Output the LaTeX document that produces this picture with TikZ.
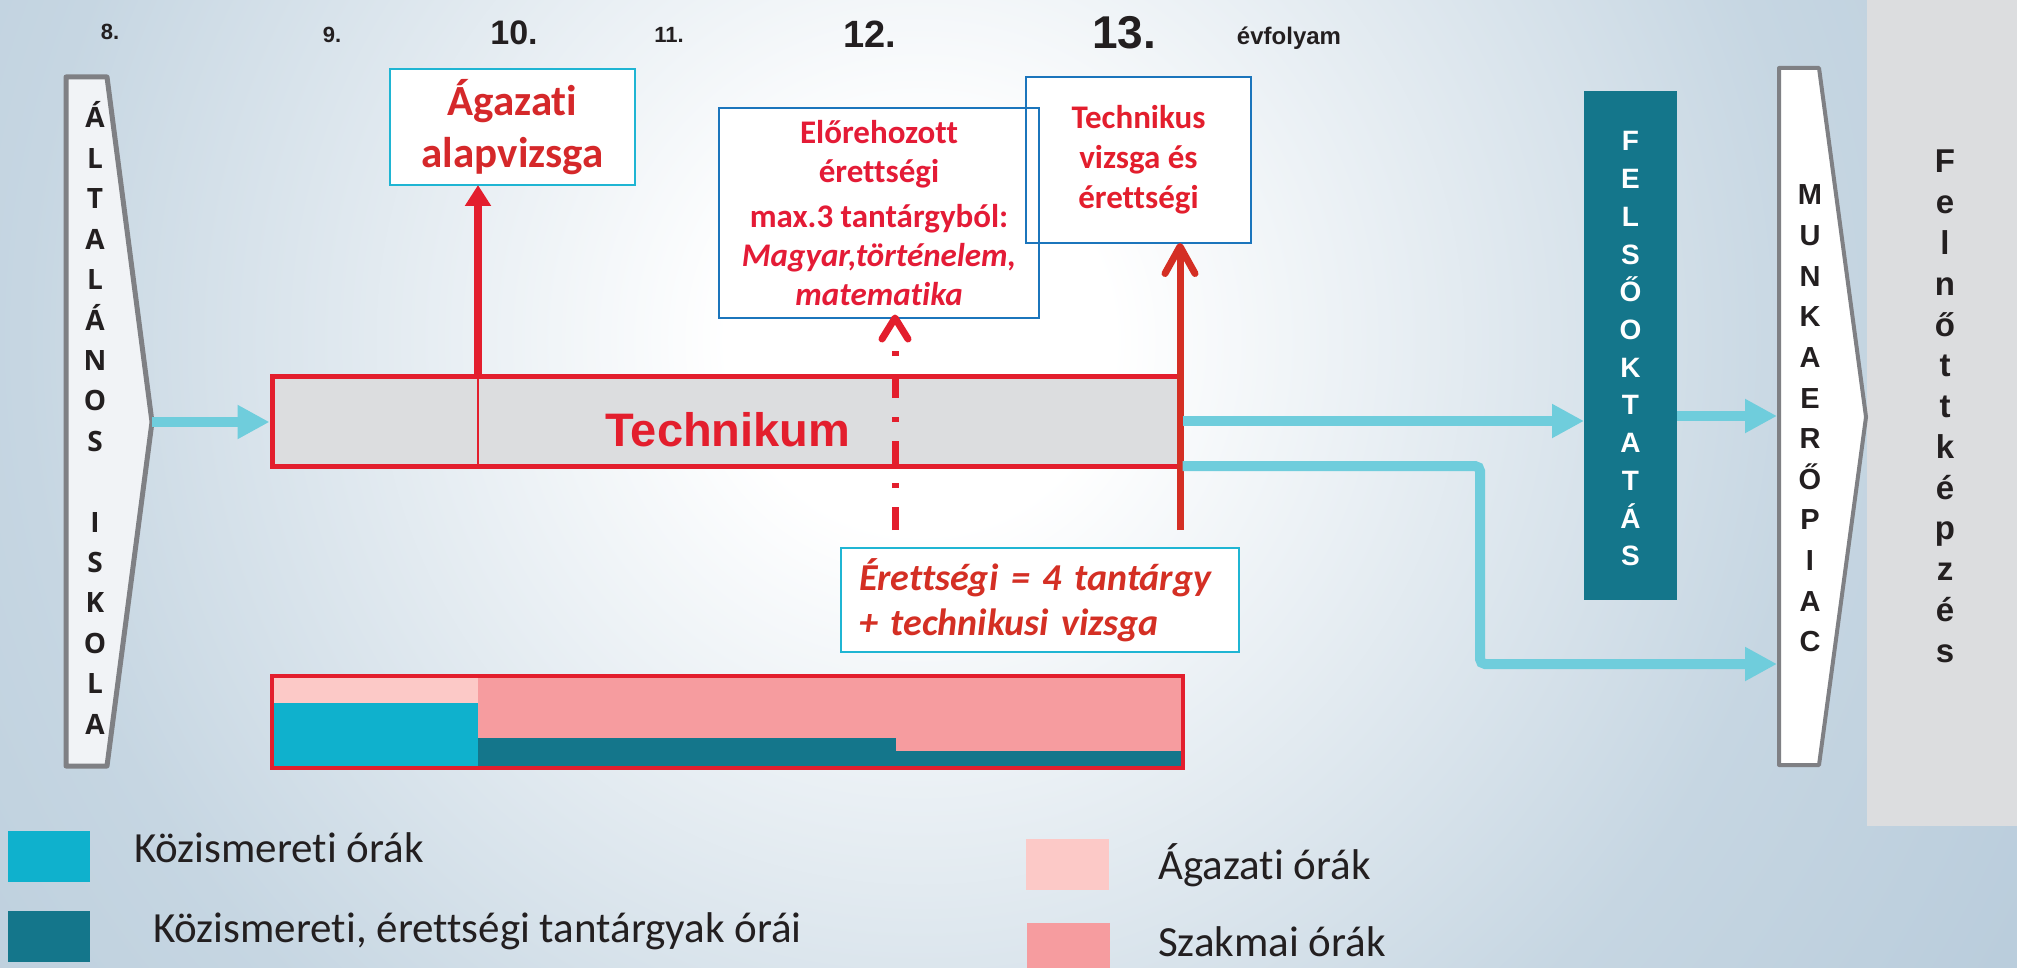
\documentclass[tikz,border=0pt]{standalone}
\usepackage{fontspec}
\setmainfont{Carlito}[Ligatures=CommonOff]
\newfontfamily\arialf{Liberation Sans}
\newfontfamily\myriadf{Open Sans}
\usetikzlibrary{arrows.meta,calc}
\definecolor{tred}{HTML}{E31E2D}
\definecolor{tred2}{HTML}{D42F24}
\definecolor{txtredA}{HTML}{D5282A}
\definecolor{txtredB}{HTML}{E41B36}
\definecolor{cyanarr}{HTML}{6FCDDC}
\definecolor{cyanbox}{HTML}{1FB5D3}
\definecolor{bluebox}{HTML}{1B75BC}
\definecolor{tealc}{HTML}{14768B}
\definecolor{cyanfill}{HTML}{0FB1CD}
\definecolor{pinkl}{HTML}{FCC9C7}
\definecolor{salmon}{HTML}{F69C9F}
\definecolor{greyfill}{HTML}{DCDDDF}
\definecolor{pentgrey}{HTML}{7F8084}
\definecolor{pentfill}{HTML}{F1F3F6}
\definecolor{bgblue}{HTML}{AEC4D6}
\definecolor{bgmid}{HTML}{C6D6E2}
\definecolor{txtdark}{HTML}{231F20}
\pgfdeclareradialshading{bgshade}{\pgfpointorigin}{color(0bp)=(white); color(3bp)=(white); color(14bp)=(bgmid); color(25bp)=(bgblue); color(50bp)=(bgblue)}
\tikzset{
  redbox/.style={draw=tred, line width=5pt, fill=greyfill, inner sep=0pt},
  cyanframe/.style={draw=cyanbox, line width=2pt, fill=white, inner sep=0pt, outer sep=0pt},
  blueframe/.style={draw=bluebox, line width=2pt, fill=white, inner sep=0pt, outer sep=0pt},
  flow/.style={draw=cyanarr, line width=10pt, -{Triangle[length=32pt,width=32pt]}},
  redarrow/.style={draw=tred, line width=8pt, -{Triangle[length=21pt,width=25pt]}},
  dashline/.style={draw=tred, line width=7pt, dash pattern=on 23pt off 19pt on 5pt off 19pt},
  letter/.style={anchor=base, inner sep=0pt},
  yearlbl/.style={anchor=base, inner sep=0pt, text=txtdark},
  legtext/.style={anchor=base west, inner sep=0pt, text=txtdark, font=\fontsize{43pt}{52pt}\selectfont}
}
\begin{document}
\begin{tikzpicture}[x=1pt,y=-1pt]
\useasboundingbox (0,0) rectangle (2017,968);
% background
\fill[bgblue] (0,0) rectangle (2017,968);
\begin{scope}
\clip (0,0) rectangle (2017,968);
\shade[shading=bgshade] (920,340) circle (1600pt);
\end{scope}
\fill[greyfill] (1867,0) rectangle (2017,826);

% year labels
\node[yearlbl, font=\arialf\bfseries\fontsize{22pt}{26pt}\selectfont] (y8) at (110,40) {8.};
\node[yearlbl, font=\arialf\bfseries\fontsize{22pt}{26pt}\selectfont] (y9) at (332,43) {9.};
\node[yearlbl, font=\arialf\bfseries\fontsize{34pt}{40pt}\selectfont] (y10) at (514,45) {10.};
\node[yearlbl, font=\arialf\bfseries\fontsize{22pt}{26pt}\selectfont] (y11) at (669,43) {11.};
\node[yearlbl, font=\arialf\bfseries\fontsize{38pt}{44pt}\selectfont] (y12) at (870,48) {12.};
\node[yearlbl, font=\arialf\bfseries\fontsize{46pt}{52pt}\selectfont] (y13) at (1124,49) {13.};
\node[yearlbl, font=\arialf\bfseries\fontsize{24pt}{28pt}\selectfont] (evf) at (1289,45) {évfolyam};

% left pentagon: Általános iskola
\draw[pentgrey, line width=5pt, fill=pentfill, line join=round] (66,77) -- (107,77) -- (152,422) -- (107,766) -- (66,766) -- cycle;
\foreach \c [count=\i from 0] in {Á,L,T,A,L,Á,N,O,S,{},I,S,K,O,L,A}
  \node[letter, text=txtdark, font=\myriadf\bfseries\fontsize{28pt}{32pt}\selectfont] (alt\i) at (95,{128+40.4*\i}) {\c};
\coordinate (altTip) at (152,422);

% right pentagon: Munkaerőpiac
\draw[pentgrey, line width=4pt, fill=white, line join=round] (1779,68) -- (1819,68) -- (1866,417) -- (1819,765) -- (1779,765) -- cycle;
\foreach \c [count=\i from 0] in {M,U,N,K,A,E,R,Ő,P,I,A,C}
  \node[letter, text=txtdark, font=\arialf\bfseries\fontsize{29pt}{32pt}\selectfont] (mkp\i) at (1810,{205+40.6*\i}) {\c};
\coordinate (mkpW) at (1777,416);

% Felnőttképzés
\foreach \c [count=\i from 0] in {F,e,l,n,ő,t,t,k,é,p,z,é,s}
  \node[letter, text=txtdark, font=\arialf\bfseries\fontsize{33pt}{36pt}\selectfont] (fk\i) at (1945,{173+40.75*\i}) {\c};

% Felsőoktatás
\node[fill=tealc, minimum width=93pt, minimum height=509pt, inner sep=0pt, outer sep=0pt] (felso) at (1630.5,345.5) {};
\foreach \c [count=\i from 0] in {F,E,L,S,Ő,O,K,T,A,T,Á,S}
  \node[letter, text=white, font=\arialf\bfseries\fontsize{28pt}{32pt}\selectfont] (fo\i) at (1630.5,{151+37.7*\i}) {\c};

% Technikum
\node[redbox, minimum width=908pt, minimum height=90pt] (tech) at (726,421) {};
\coordinate (agaX) at (478,0);
\draw[tred, line width=1.5pt] (tech.north -| agaX) -- (tech.south -| agaX);
\node[anchor=base, inner sep=0pt, text=tred, font=\arialf\bfseries\fontsize{47pt}{54pt}\selectfont] (techlbl) at (728,446) {Technikum};

% exam boxes
\node[cyanframe, minimum width=245pt, minimum height=116pt, align=center, text=txtredA,
      font=\bfseries\fontsize{43pt}{52pt}\selectfont] (aga) at (512.5,127) {Ágazati\\alapvizsga};
\node[blueframe, minimum width=320pt, minimum height=210pt, align=center, text=txtredB,
      font=\bfseries\fontsize{33pt}{39pt}\selectfont] (elo) at (879,213)
      {Előrehozott\\érettségi\\[6pt]max.3 tantárgyból:\\\textit{Magyar,történelem,}\\\textit{matematika}};
\node[blueframe, minimum width=225pt, minimum height=166pt, align=center, text=tred,
      font=\bfseries\fontsize{33pt}{40pt}\selectfont] (tvz) at (1138.5,160) {Technikus\\vizsga és\\érettségi};
\draw[bluebox, line width=2pt] (elo.north west) rectangle (elo.south east);
\node[cyanframe, minimum width=398pt, minimum height=104pt, inner xsep=18pt, text width=362pt, align=left, text=tred2,
      font=\bfseries\itshape\fontsize{38pt}{45pt}\selectfont] (eret) at (1040,600) {Érettségi = 4 tantárgy\\+ technikusi vizsga};

% red arrows
\draw[redarrow] (tech.north -| agaX) -- (aga.south -| agaX);
\coordinate (dashS) at (895,530);
\coordinate (dashE) at (895,346);
\draw[dashline] (dashS) -- (dashE);
\draw[tred, line width=7pt, line cap=round, line join=round]
  ($(elo.south -| dashS)+(-13,21)$) -- (elo.south -| dashS) -- ($(elo.south -| dashS)+(13,21)$);
\coordinate (techS) at (1180,530);
\draw[tred2, line width=7pt, -{Straight Barb[length=27pt,width=30pt,line cap=round,line join=round]}] (techS) -- (tvz.south -| techS);

% cyan flows
\draw[flow] (altTip) -- (altTip -| tech.west);
\draw[flow] (tech.east) -- (tech.east -| felso.west);
\draw[flow] (felso.east |- mkpW) -- (mkpW);
\coordinate (bend) at (1480,664);
\draw[flow, rounded corners=5pt] ([yshift=2.5pt]tech.south east) -| (bend) -- (bend -| mkpW);

% stacked hours bar
\fill[pinkl] (272,676) rectangle (478,703);
\fill[cyanfill] (272,703) rectangle (478,768);
\fill[salmon] (478,676) rectangle (896,738);
\fill[tealc] (478,738) rectangle (896,768);
\fill[salmon] (896,676) rectangle (1183,751);
\fill[tealc] (896,751) rectangle (1183,768);
\draw[tred, line width=3.5pt] (272,676) rectangle (1183,768);

% legend
\fill[cyanfill] (8,831) rectangle (90,882);
\fill[tealc] (8,911) rectangle (90,962);
\fill[pinkl] (1026,839) rectangle (1109,890);
\fill[salmon] (1027,923) rectangle (1110,968);
\node[legtext] (lg1) at (134,862) {Közismereti órák};
\node[legtext] (lg2) at (153,942) {Közismereti, érettségi tantárgyak órái};
\node[legtext] (lg3) at (1158,879) {Ágazati órák};
\node[legtext] (lg4) at (1158,956) {Szakmai órák};
\end{tikzpicture}
\end{document}
